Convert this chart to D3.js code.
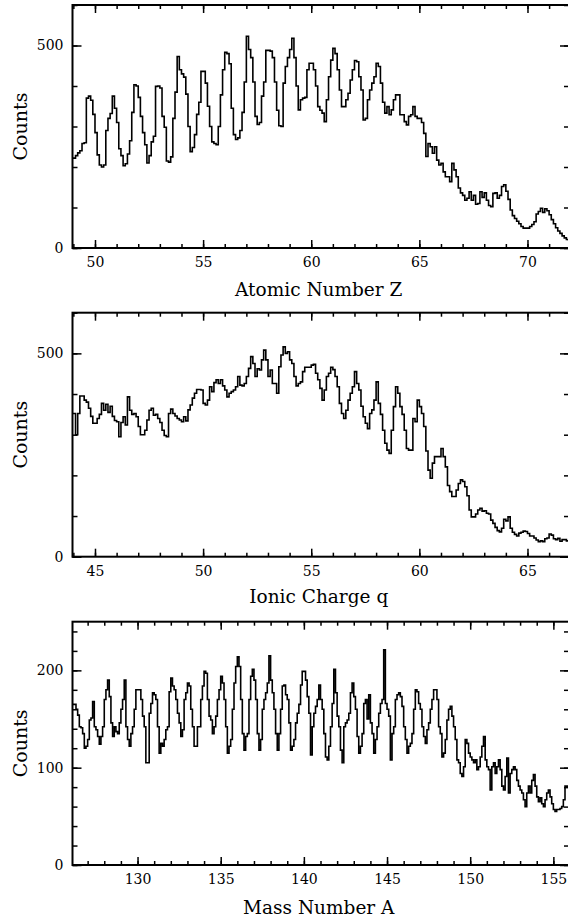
<!DOCTYPE html>
<html>
<head>
<meta charset="utf-8">
<script src="https://cdn.jsdelivr.net/npm/d3@7"></script>
<style>
  html, body { margin: 0; padding: 0; background: #fff; }
  svg { display: block; }
  text { font-family: "DejaVu Serif", serif; fill: #000; }
</style>
</head>
<body>
<svg id="chart" width="568" height="918"></svg>
<script>
// Histogram bins are 0.1 units wide; each array starts at the given lower edge.
const binWidth = 0.1;

// Atomic number Z
const zStart = 48.9;
const zCounts = [222,
  222,228,235,240,258,260,370,375,365,330,
  285,230,205,200,205,290,320,332,375,345,
  310,245,228,203,208,232,265,335,403,400,
  372,325,285,255,210,228,262,276,399,400,
  395,325,298,215,212,225,320,385,473,440,
  430,422,380,300,238,248,280,330,360,436,
  436,407,350,300,262,258,255,300,378,440,
  483,480,455,345,280,268,272,290,335,410,
  523,490,470,410,325,305,310,375,410,488,
  488,486,470,410,340,302,300,407,448,470,
  490,518,470,400,341,366,370,372,440,456,
  456,440,400,349,340,333,312,366,423,464,
  493,480,440,390,349,349,366,382,415,440,
  463,460,423,390,316,320,366,390,407,423,
  456,448,407,360,333,349,329,341,366,378,
  378,329,329,312,304,325,329,349,325,320,
  320,310,283,226,258,250,234,250,217,205,
  209,188,176,176,164,209,193,176,148,136,
  130,118,123,139,118,130,108,110,139,125,
  136,118,105,102,135,136,123,130,152,156,
  140,120,94,80,73,66,60,53,49,49,
  49,53,58,65,84,90,98,88,97,92,
  82,70,60,50,42,36,30,25,21,20];

// Ionic charge q
const qStart = 43.9;
const qCounts = [352,
  352,300,352,395,395,385,380,365,345,328,
  328,340,350,377,360,375,355,370,345,335,
  332,295,330,344,324,393,360,350,352,344,
  320,300,300,311,336,360,365,348,350,340,
  330,311,298,295,352,363,352,346,340,336,
  332,344,334,361,373,390,402,411,411,410,
  377,373,385,418,406,428,435,426,435,420,
  410,393,402,406,410,418,443,422,420,426,
  443,463,492,475,443,462,459,484,508,484,
  443,459,426,426,402,467,496,516,500,504,
  484,475,443,420,426,430,455,466,466,466,
  471,473,451,435,414,385,410,443,451,466,
  460,443,418,377,352,340,360,385,402,418,
  455,426,410,370,344,328,315,352,361,385,
  430,377,350,311,279,262,254,311,369,418,
  402,369,350,311,266,262,262,340,332,385,
  369,352,320,260,213,193,230,246,246,246,
  266,246,221,175,160,148,148,164,180,189,
  185,172,150,115,98,98,105,115,119,112,
  113,107,105,90,82,72,64,61,70,92,
  88,98,70,60,55,51,58,60,63,62,
  57,51,51,46,41,37,39,37,44,46,
  56,53,44,42,45,38,42,42,39,39];

// Mass number A
const aStart = 126.0;
const aCounts = [
  165,165,165,160,154,142,141,135,120,122,
  129,149,151,168,142,139,132,124,132,142,
  170,180,190,173,146,132,142,137,135,146,
  160,170,190,142,129,122,135,142,160,180,
  180,180,170,153,142,105,105,156,166,177,
  175,170,142,115,125,122,129,139,142,178,
  192,184,180,170,156,146,132,139,170,177,
  187,184,160,142,122,122,142,142,170,184,
  199,197,170,153,149,135,142,153,170,180,
  194,187,170,142,115,122,129,160,187,204,
  214,204,170,135,118,132,135,170,194,201,
  190,170,135,118,129,160,170,177,187,215,
  190,177,160,135,118,135,160,184,185,175,
  170,146,118,122,129,146,156,165,185,199,
  199,190,173,156,113,142,156,163,170,185,
  170,160,135,111,108,122,142,166,201,177,
  153,142,118,105,142,146,149,156,177,187,
  173,160,132,115,122,135,166,170,150,175,
  146,135,115,129,142,156,166,170,221,166,
  160,153,108,135,142,170,175,177,173,163,
  142,129,115,122,125,135,160,180,178,166,
  160,142,132,125,139,146,160,170,180,180,
  170,142,135,111,115,129,149,160,163,153,
  142,129,108,105,94,91,101,129,125,115,
  111,108,105,108,98,101,111,122,132,108,
  101,98,77,101,105,94,101,108,98,81,
  77,91,110,74,94,98,101,98,87,81,
  77,74,67,60,74,81,74,87,93,81,
  70,65,69,63,60,67,74,77,70,63,
  57,55,57,57,58,60,67,81,81,81];

// Axis ranges and tick values
const zDomain = [48.96, 71.92];
const qDomain = [43.96, 66.92];
const aDomain = [126.09, 155.94];
const zTicks = [50, 55, 60, 65, 70];
const qTicks = [45, 50, 55, 60, 65];
const aTicks = [130, 135, 140, 145, 150, 155];
const countTicks600 = [0, 500];
const countTicks250 = [0, 100, 200];

const panels = [
  { title: "Atomic Number Z", start: zStart, counts: zCounts, domain: zDomain,
    ticks: zTicks, yMax: 600, yTicks: countTicks600, yMinorStep: 100,
    top: 5, bottom: 248, titleY: 296 },
  { title: "Ionic Charge q", start: qStart, counts: qCounts, domain: qDomain,
    ticks: qTicks, yMax: 600, yTicks: countTicks600, yMinorStep: 100,
    top: 312.7, bottom: 556.7, titleY: 603 },
  { title: "Mass Number A", start: aStart, counts: aCounts, domain: aDomain,
    ticks: aTicks, yMax: 250, yTicks: countTicks250, yMinorStep: 20,
    top: 621.7, bottom: 865, titleY: 914 }
];

const svg = d3.select("#chart");
const left = 72.5, right = 569;

function styleAxis(g, fontSize) {
  g.select(".domain").remove();
  g.selectAll(".tick line").attr("stroke", "#000").attr("stroke-width", 1.5);
  g.selectAll("text")
    .attr("font-family", "DejaVu Serif, serif")
    .attr("font-size", fontSize)
    .attr("fill", "#000");
}

panels.forEach((p, idx) => {
  const x = d3.scaleLinear().domain(p.domain).range([left, right]);
  const y = d3.scaleLinear().domain([0, p.yMax]).range([p.bottom, p.top]);

  const xMinor = d3.range(Math.ceil(p.domain[0]), Math.floor(p.domain[1]) + 1);
  const yMinor = d3.range(0, p.yMax + 0.001, p.yMinorStep);

  const g = svg.append("g");

  // clip region for the histogram
  const clipId = "clip" + idx;
  svg.append("clipPath").attr("id", clipId)
    .append("rect")
    .attr("x", left).attr("y", p.top)
    .attr("width", right - left).attr("height", p.bottom - p.top);

  // histogram outline
  const pts = p.counts.map((c, i) => [p.start + i * binWidth, c]);
  pts.push([p.start + p.counts.length * binWidth, p.counts[p.counts.length - 1]]);
  const line = d3.line()
    .x(d => x(d[0]))
    .y(d => y(d[1]))
    .curve(d3.curveStepAfter);
  g.append("path")
    .datum(pts)
    .attr("clip-path", `url(#${clipId})`)
    .attr("fill", "none")
    .attr("stroke", "#000")
    .attr("stroke-width", 1.6)
    .attr("stroke-linejoin", "miter")
    .attr("d", line);

  // bottom axis: labelled major ticks and unit minor ticks, pointing inward
  g.append("g").attr("transform", `translate(0,${p.bottom})`)
    .call(d3.axisBottom(x).tickValues(xMinor).tickSize(-4).tickFormat(""))
    .call(a => styleAxis(a, 14));
  g.append("g").attr("transform", `translate(0,${p.bottom})`)
    .call(d3.axisBottom(x).tickValues(p.ticks).tickSize(-8).tickPadding(9).tickFormat(d3.format("d")))
    .call(a => styleAxis(a, 14));

  // top axis mirror ticks
  g.append("g").attr("transform", `translate(0,${p.top})`)
    .call(d3.axisTop(x).tickValues(xMinor).tickSize(-4).tickFormat(""))
    .call(a => styleAxis(a, 14));
  g.append("g").attr("transform", `translate(0,${p.top})`)
    .call(d3.axisTop(x).tickValues(p.ticks).tickSize(-8).tickFormat(""))
    .call(a => styleAxis(a, 14));

  // left axis
  g.append("g").attr("transform", `translate(${left},0)`)
    .call(d3.axisLeft(y).tickValues(yMinor).tickSize(-5).tickFormat(""))
    .call(a => styleAxis(a, 14));
  g.append("g").attr("transform", `translate(${left},0)`)
    .call(d3.axisLeft(y).tickValues(p.yTicks).tickSize(-9).tickPadding(9).tickFormat(d3.format("d")))
    .call(a => styleAxis(a, 14));

  // right axis mirror ticks
  g.append("g").attr("transform", `translate(${right},0)`)
    .call(d3.axisRight(y).tickValues(yMinor).tickSize(-5).tickFormat(""))
    .call(a => styleAxis(a, 14));
  g.append("g").attr("transform", `translate(${right},0)`)
    .call(d3.axisRight(y).tickValues(p.yTicks).tickSize(-9).tickFormat(""))
    .call(a => styleAxis(a, 14));

  // frame
  g.append("rect")
    .attr("x", left).attr("y", p.top)
    .attr("width", right - left).attr("height", p.bottom - p.top)
    .attr("fill", "none").attr("stroke", "#000").attr("stroke-width", 2);

  // axis titles
  g.append("text")
    .attr("x", (left + right) / 2 - 2)
    .attr("y", p.titleY)
    .attr("text-anchor", "middle")
    .attr("font-size", 18.5)
    .text(p.title);

  g.append("text")
    .attr("transform", `translate(26.5,${(p.top + p.bottom) / 2}) rotate(-90)`)
    .attr("text-anchor", "middle")
    .attr("font-size", 19)
    .text("Counts");
});
</script>
</body>
</html>
